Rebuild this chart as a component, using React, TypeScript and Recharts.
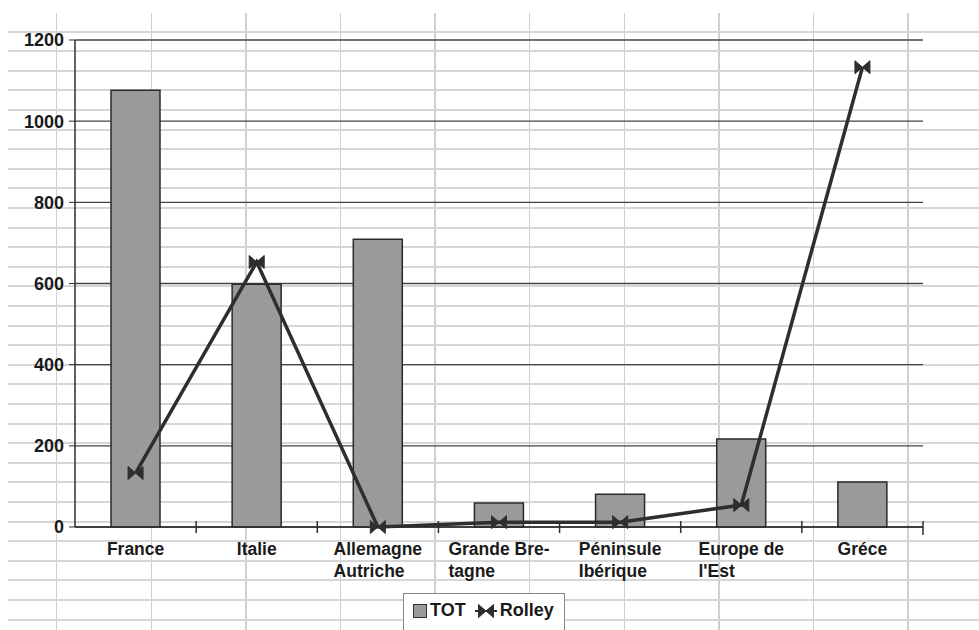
import React from 'react';
import { ComposedChart, Bar, Line, XAxis, YAxis, CartesianGrid, Legend } from 'recharts';

const categories = [
  'France',
  'Italie',
  'Allemagne\nAutriche',
  'Grande Bre-\ntagne',
  'Péninsule\nIbérique',
  "Europe de\nl'Est",
  'Gréce',
];
const totValues = [1076, 598, 709, 59, 81, 217, 111];
const rolleyValues = [133, 653, 0, 12, 12, 54, 1133];
const yTicks = [0, 200, 400, 600, 800, 1000, 1200];
const seriesOrder = ['TOT', 'Rolley'];

const FONT = "'Liberation Sans', Arial, sans-serif";
const INK = '#2e2e2e';
const LABEL_SIZE = 17.5;

const chartData = categories.map((c, i) => ({
  name: c,
  TOT: totValues[i],
  Rolley: rolleyValues[i],
}));

let ctx: CanvasRenderingContext2D | null = null;
const measure = (t: string) => {
  if (!ctx) ctx = document.createElement('canvas').getContext('2d');
  if (!ctx) return t.length * 9;
  ctx.font = `bold ${LABEL_SIZE}px ${FONT}`;
  return ctx.measureText(t).width;
};

// category label: lines left aligned, block centred, tick mark on the left boundary
const CategoryTick = (props: any) => {
  const { x, y, payload } = props;
  const band = (923 - 75) / categories.length;
  const lines = String(payload.value).split('\n');
  const w = Math.max(...lines.map(measure));
  const left = x - w / 2;
  const idx = categories.indexOf(payload.value);
  return (
    <g>
      {idx > 0 && (
        <line x1={x - band / 2} x2={x - band / 2} y1={y - 6} y2={y + 6} stroke={INK} strokeWidth={1.5} />
      )}
      {idx === categories.length - 1 && (
        <line x1={x + band / 2} x2={x + band / 2} y1={y - 6} y2={y + 8} stroke={INK} strokeWidth={1.5} />
      )}
      {lines.map((l, i) => (
        <text key={i} x={left} y={y + 28 + i * 22} textAnchor="start" fontFamily={FONT} fontWeight="bold" fontSize={LABEL_SIZE} fill="#1a1a1a">
          {l}
        </text>
      ))}
    </g>
  );
};

const BowTie = (props: any) => {
  const { cx, cy } = props;
  if (cx == null || cy == null) return null;
  return (
    <path
      d={`M${cx - 7.5},${cy - 6.5} L${cx},${cy} L${cx - 7.5},${cy + 6.5} Z M${cx + 7.5},${cy - 6.5} L${cx},${cy} L${cx + 7.5},${cy + 6.5} Z`}
      fill={INK}
      stroke={INK}
      strokeWidth={1}
    />
  );
};

const LegendBox = (props: any) => {
  const payload = [...(props.payload || [])].sort(
    (a: any, b: any) => seriesOrder.indexOf(a.value) - seriesOrder.indexOf(b.value)
  );
  return (
    <div
      style={{
        display: 'flex',
        alignItems: 'center',
        gap: 9,
        background: '#fff',
        border: '1px solid #888',
        padding: '6px 10px 14px 9px',
        fontFamily: FONT,
        fontWeight: 'bold',
        fontSize: 18,
        color: '#1a1a1a',
      }}
    >
      {payload.map((p: any) => (
        <span key={p.value} style={{ display: 'flex', alignItems: 'center', gap: 3 }}>
          {p.value === 'TOT' ? (
            <span style={{ width: 12, height: 12, background: '#9a9a9a', border: '1px solid #333', display: 'inline-block' }} />
          ) : (
            <svg width={22} height={14}>
              <line x1={0} x2={22} y1={7} y2={7} stroke={INK} strokeWidth={2} />
              <BowTie cx={11} cy={7} />
            </svg>
          )}
          {p.value}
        </span>
      ))}
    </div>
  );
};

export default function App() {
  return (
    <div style={{ position: 'fixed', left: 0, top: 0, width: 979, height: 630, background: '#fff', overflow: 'hidden' }}>
      {/* spreadsheet cells behind the chart */}
      <div
        style={{
          position: 'absolute',
          left: 8,
          top: 13,
          right: 0,
          bottom: 0,
          backgroundImage:
            'repeating-linear-gradient(to bottom, transparent 0px, transparent 17.6px, #d6d6d6 17.6px, #d6d6d6 19.6px), repeating-linear-gradient(to right, transparent 0px, transparent 48px, #cfcfcf 48px, #cfcfcf 49.5px, transparent 49.5px, transparent 94.6px)',
          backgroundPosition: '0 0, 0 0',
        }}
      />
      <div style={{ position: 'absolute', left: 0, top: 0 }}>
        <ComposedChart width={979} height={630} data={chartData} margin={{ top: 40, right: 56, left: 0, bottom: 0 }}>
          <CartesianGrid vertical={false} stroke="#444" strokeWidth={1.3} />
          <XAxis
            dataKey="name"
            height={60}
            interval={0}
            tickSize={0}
            tickMargin={0}
            tick={<CategoryTick />}
            axisLine={{ stroke: INK, strokeWidth: 1.5 }}
            tickLine={false}
          />
          <YAxis
            width={75}
            domain={[0, 1200]}
            ticks={yTicks}
            interval={0}
            tickSize={6}
            tickMargin={5}
            tick={{ fontFamily: FONT, fontWeight: 'bold', fontSize: 18, fill: '#1a1a1a' }}
            axisLine={{ stroke: INK, strokeWidth: 1.5 }}
            tickLine={{ stroke: INK }}
          />
          <YAxis yAxisId="frame" orientation="right" width={0} tick={false} tickLine={false} axisLine={{ stroke: '#444', strokeWidth: 1.3 }} />
          <Legend
            content={<LegendBox />}
            wrapperStyle={{ left: 403, top: 593, width: 'auto', bottom: 'auto' }}
          />
          <Bar dataKey="TOT" barSize={49} fill="#9a9a9a" stroke="#2a2a2a" strokeWidth={1.5} isAnimationActive={false} />
          <Line
            dataKey="Rolley"
            type="linear"
            stroke={INK}
            strokeWidth={3.5}
            dot={<BowTie />}
            activeDot={false}
            isAnimationActive={false}
          />
        </ComposedChart>
      </div>
    </div>
  );
}
